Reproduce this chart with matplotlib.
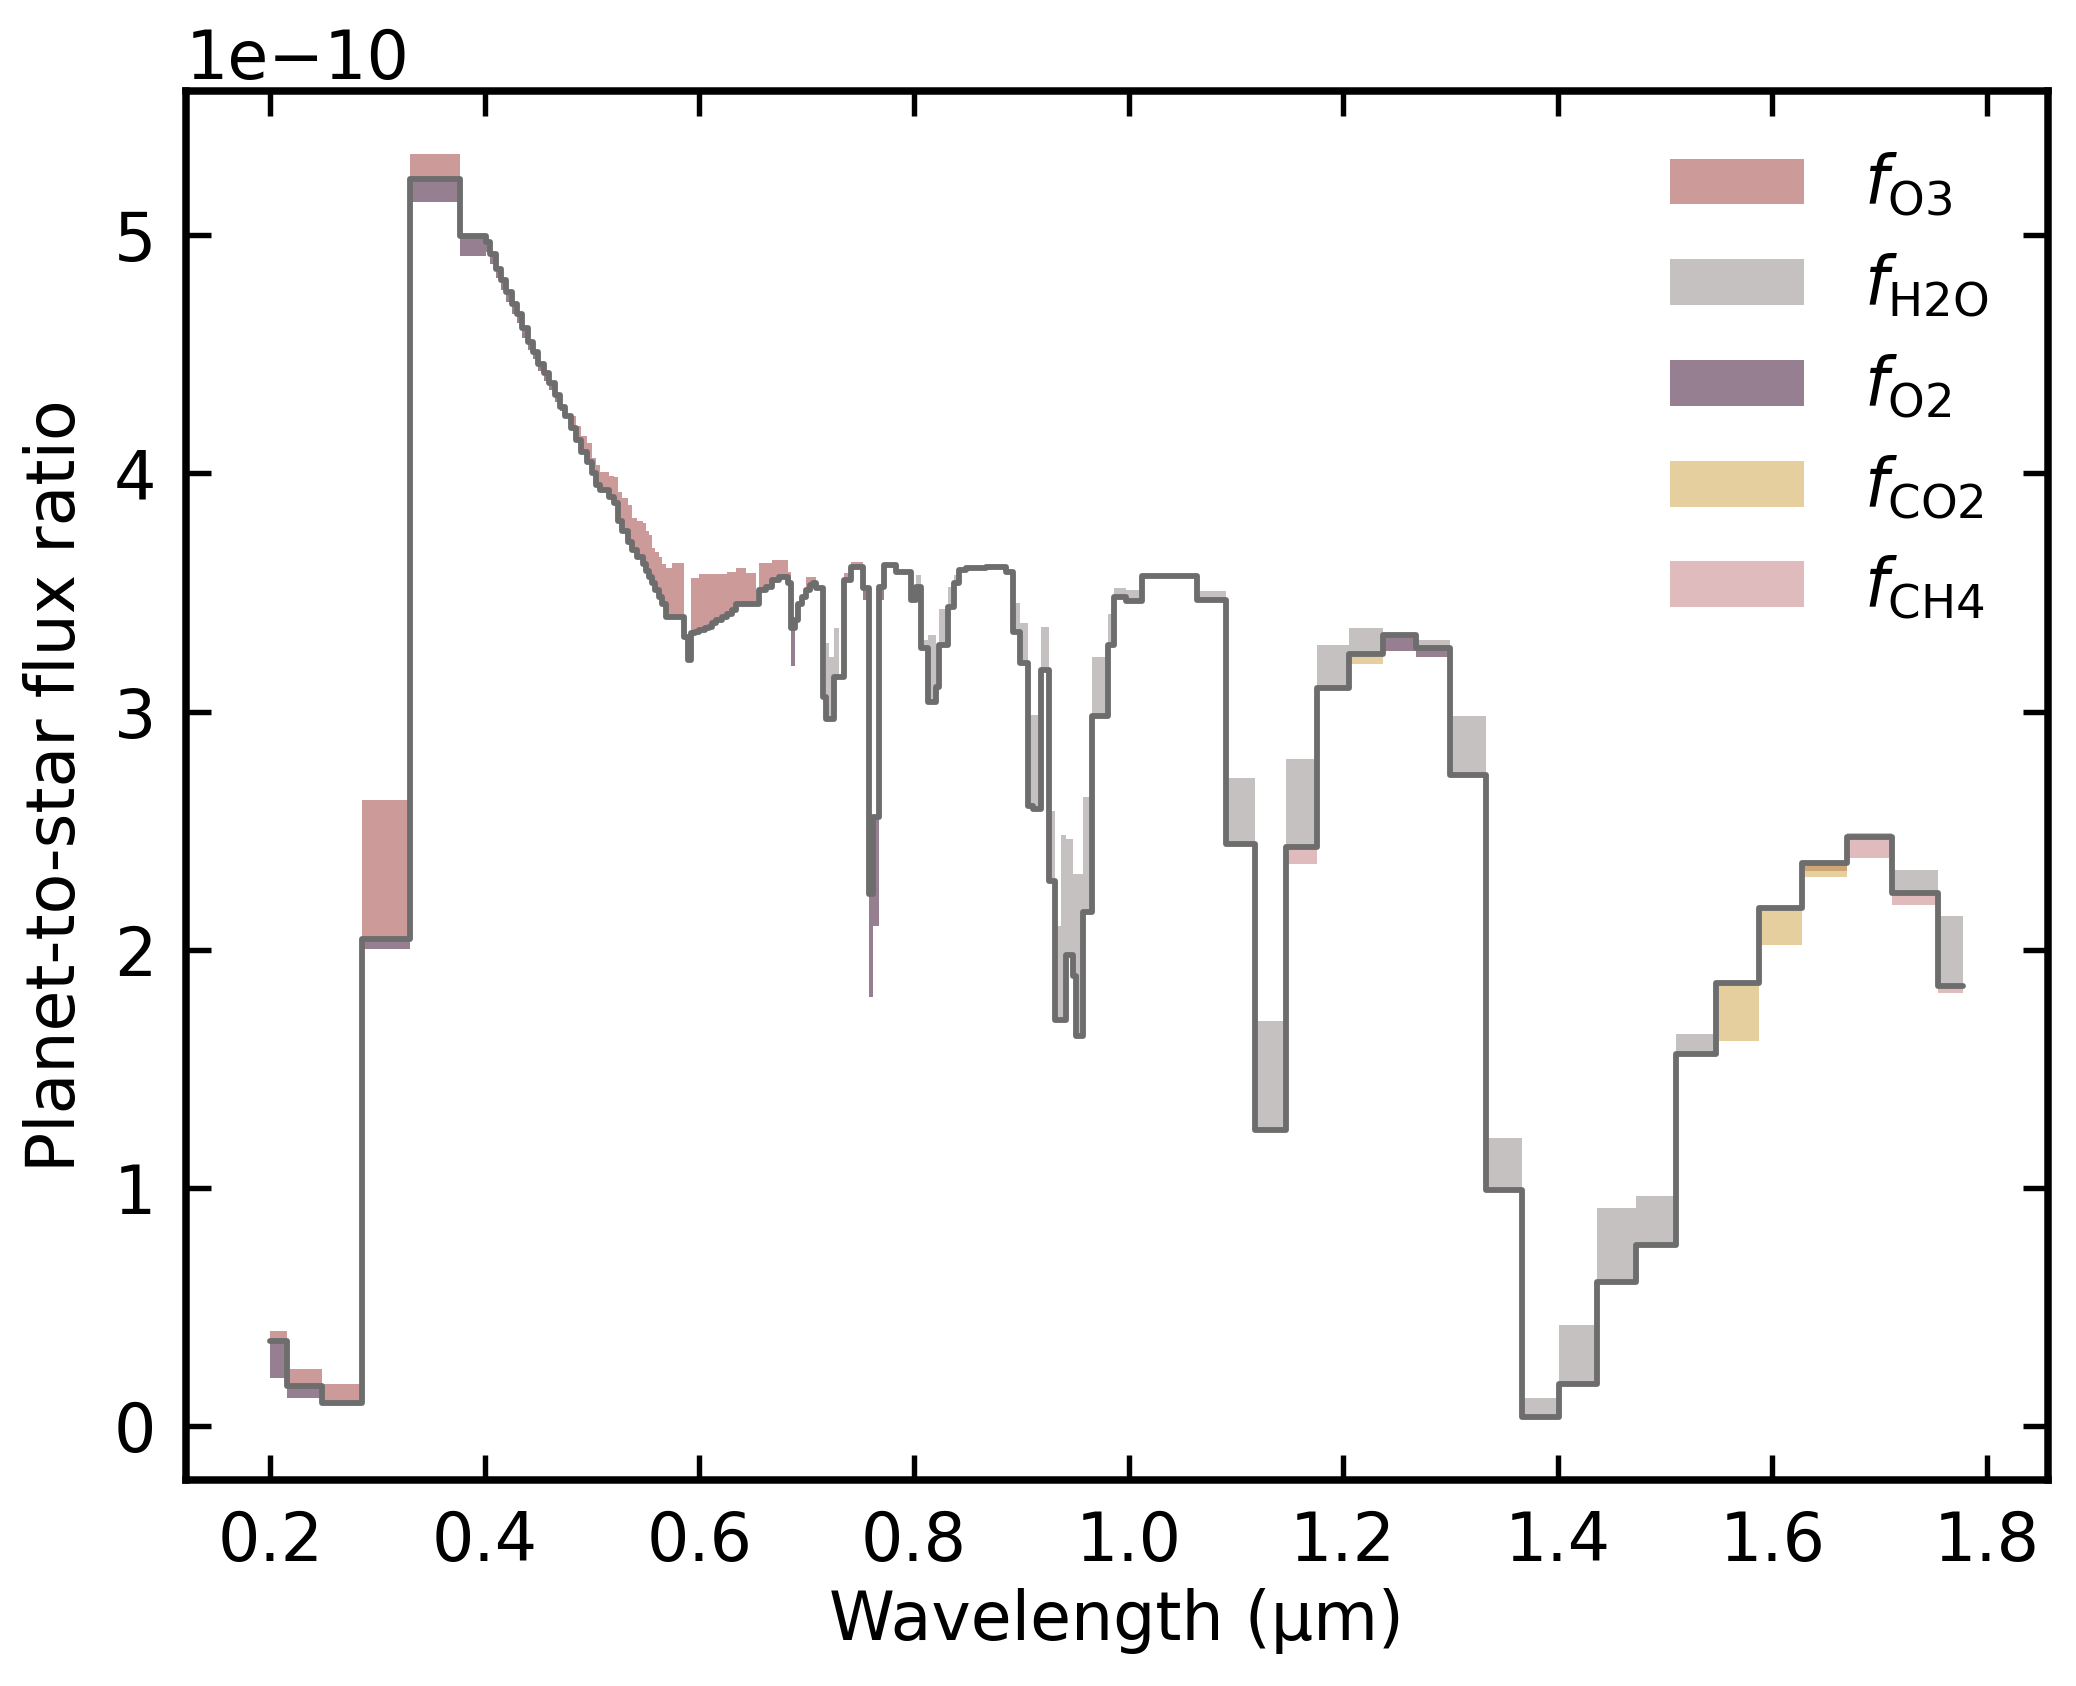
import numpy as np
import matplotlib
matplotlib.use("Agg")
import matplotlib.pyplot as plt
from matplotlib.patches import Patch

SCALE = 1e-10  # flux values below are in units of 1e-10

# bin start wavelengths (um) and planet-to-star flux ratio (x1e-10)
wl_start = [
    0.2000, 0.2158, 0.2479, 0.2857, 0.3300, 0.3766, 0.4008, 0.4050, 0.4100, 0.4150,
    0.4200, 0.4250, 0.4300, 0.4350, 0.4400, 0.4450, 0.4500, 0.4550, 0.4600, 0.4650,
    0.4700, 0.4750, 0.4800, 0.4850, 0.4900, 0.4950, 0.5000, 0.5040, 0.5070, 0.5160,
    0.5200, 0.5240, 0.5280, 0.5330, 0.5376, 0.5420, 0.5470, 0.5500, 0.5530, 0.5560,
    0.5590, 0.5625, 0.5656, 0.5690, 0.5743, 0.5860, 0.5890, 0.5925, 0.5960, 0.6000,
    0.6050, 0.6091, 0.6120, 0.6153, 0.6215, 0.6260, 0.6308, 0.6340, 0.6433, 0.6527,
    0.6557, 0.6620, 0.6680, 0.6740, 0.6830, 0.6850, 0.6890, 0.6920, 0.6960, 0.6995,
    0.7030, 0.7057, 0.7090, 0.7149, 0.7180, 0.7210, 0.7258, 0.7305, 0.7351, 0.7413,
    0.7522, 0.7584, 0.7616, 0.7678, 0.7724, 0.7833, 0.7973, 0.8020, 0.8066, 0.8129,
    0.8206, 0.8237, 0.8315, 0.8377, 0.8424, 0.8486, 0.8673, 0.8860, 0.8921, 0.8984,
    0.9061, 0.9108, 0.9186, 0.9263, 0.9310, 0.9370, 0.9418, 0.9481, 0.9512, 0.9576,
    0.9660, 0.9809, 0.9866, 0.9976, 1.0126, 1.0642, 1.0909, 1.1182, 1.1469, 1.1759,
    1.2058, 1.2375, 1.2675, 1.2998, 1.3333, 1.3667, 1.4012, 1.4365, 1.4727, 1.5100,
    1.5480, 1.5873, 1.6277, 1.6698, 1.7114, 1.7546,
]
wl_end = 1.7781

flux = [
    0.359, 0.170, 0.099, 2.047, 5.236, 4.998, 4.97, 4.92, 4.86, 4.81,
    4.76, 4.71, 4.67, 4.61, 4.55, 4.51, 4.46, 4.42, 4.38, 4.33,
    4.28, 4.24, 4.19, 4.14, 4.09, 4.05, 4.00, 3.95, 3.93, 3.90,
    3.875, 3.80, 3.76, 3.71, 3.68, 3.65, 3.62, 3.59, 3.566, 3.54,
    3.51, 3.48, 3.45, 3.397, 3.397, 3.313, 3.215, 3.33, 3.335, 3.342,
    3.35, 3.356, 3.37, 3.384, 3.397, 3.41, 3.425, 3.453, 3.453, 3.45,
    3.51, 3.524, 3.552, 3.566, 3.538, 3.349, 3.384, 3.45, 3.48, 3.51,
    3.53, 3.538, 3.52, 3.061, 2.97, 2.97, 3.145, 3.145, 3.552, 3.608,
    3.517, 2.234, 2.556, 3.524, 3.615, 3.587, 3.468, 3.524, 3.265, 3.04,
    3.103, 3.279, 3.44, 3.538, 3.594, 3.601, 3.608, 3.587, 3.335, 3.202,
    2.605, 2.591, 3.174, 2.29, 1.707, 1.707, 1.98, 1.89, 1.64, 2.16,
    2.98, 3.28, 3.483, 3.464, 3.569, 3.468, 2.443, 1.243, 2.431, 3.10,
    3.24, 3.321, 3.265, 2.735, 0.99, 0.039, 0.178, 0.607, 0.762, 1.561,
    1.86, 2.175, 2.365, 2.474, 2.24, 1.847,
]

# flux of the varied model for each gas, keyed by bin start (x1e-10)
o3_alt = {
    0.2000: 0.398, 0.2158: 0.238, 0.2479: 0.175, 0.2857: 2.629, 0.3300: 5.339,
    0.4800: 4.24, 0.4850: 4.20, 0.4900: 4.156, 0.4950: 4.127, 0.5000: 4.064,
    0.5040: 4.036, 0.5070: 4.008, 0.5160: 3.99, 0.5200: 3.987, 0.5240: 3.924,
    0.5280: 3.896, 0.5330: 3.868, 0.5376: 3.812, 0.5420: 3.80, 0.5470: 3.791,
    0.5500: 3.76, 0.5530: 3.742, 0.5560: 3.686, 0.5590: 3.67, 0.5625: 3.65,
    0.5656: 3.62, 0.5690: 3.601, 0.5743: 3.625, 0.5925: 3.559, 0.5960: 3.559,
    0.6000: 3.578, 0.6050: 3.578, 0.6091: 3.578, 0.6120: 3.578, 0.6153: 3.578,
    0.6215: 3.578, 0.6260: 3.587, 0.6308: 3.587, 0.6340: 3.601, 0.6433: 3.583,
    0.6557: 3.622, 0.6620: 3.622, 0.6680: 3.637, 0.6740: 3.637, 0.6830: 3.587,
    0.6995: 3.566, 0.7030: 3.566, 0.7057: 3.566, 0.7351: 3.58, 0.7413: 3.63,
    1.6277: 2.33,
}
h2o_alt = {
    0.6890: 3.45, 0.7180: 3.29, 0.7210: 3.23, 0.7258: 3.35, 0.8020: 3.573,
    0.8066: 3.30, 0.8129: 3.32, 0.8237: 3.43, 0.8315: 3.524, 0.8377: 3.573,
    0.8921: 3.454, 0.8984: 3.37, 0.9061: 2.984, 0.9108: 2.984, 0.9186: 3.356,
    0.9263: 2.584, 0.9310: 2.10, 0.9370: 2.48, 0.9418: 2.465, 0.9481: 2.32,
    0.9512: 2.32, 0.9576: 2.64, 0.9660: 3.23, 0.9809: 3.41, 0.9866: 3.52,
    0.9976: 3.51, 1.0642: 3.506, 1.0909: 2.72, 1.1182: 1.70, 1.1469: 2.80,
    1.1759: 3.28, 1.2058: 3.35, 1.2675: 3.30, 1.2998: 2.98, 1.3333: 1.21,
    1.3667: 0.12, 1.4012: 0.425, 1.4365: 0.915, 1.4727: 0.965, 1.5100: 1.645,
    1.6698: 2.49, 1.7114: 2.335, 1.7546: 2.14,
}
o2_alt = {
    0.2000: 0.2016, 0.2158: 0.12, 0.2857: 2.003, 0.3300: 5.14, 0.3766: 4.911,
    0.4008: 4.93, 0.4050: 4.88, 0.4100: 4.82, 0.4150: 4.77, 0.4200: 4.72,
    0.4250: 4.67, 0.4300: 4.63, 0.4350: 4.57, 0.4400: 4.52, 0.4450: 4.48,
    0.4500: 4.43, 0.4550: 4.39, 0.4600: 4.35, 0.4650: 4.30, 0.4700: 4.26,
    0.6850: 3.19, 0.7522: 3.47, 0.7584: 1.80, 0.7616: 2.10, 0.7678: 3.47,
    1.2375: 3.255, 1.2675: 3.228,
}
co2_alt = {1.2058: 3.20, 1.5480: 1.617, 1.5873: 2.02, 1.6277: 2.306}
ch4_alt = {1.1469: 2.36, 1.6698: 2.385, 1.7114: 2.19, 1.7546: 1.82}

gas_labels = [r"$f_{\rm O3}$", r"$f_{\rm H2O}$", r"$f_{\rm O2}$", r"$f_{\rm CO2}$", r"$f_{\rm CH4}$"]
gas_alts = [o3_alt, h2o_alt, o2_alt, co2_alt, ch4_alt]
gas_colors = ["#aa5753", "#a09999", "#502a48", "#d4af5f", "#ca8e91"]
fill_alpha = 0.6
line_color = "#6d6d6d"

edges = np.array(wl_start + [wl_end])
fl = np.array(flux)
fl_ext = np.append(fl, fl[-1]) * SCALE

fig = plt.figure(figsize=(6.92, 5.62), dpi=300)
ax = fig.add_axes([0.0894, 0.1222, 0.8971, 0.8236])

starts = np.array(wl_start)
for alt_map, col in zip(gas_alts, gas_colors):
    alt = fl.copy()
    for w0, val in alt_map.items():
        idx = int(np.argmin(np.abs(starts - w0)))
        alt[idx] = val
    alt_ext = np.append(alt, alt[-1]) * SCALE
    ax.fill_between(edges, fl_ext, alt_ext, step="post", color=col,
                    alpha=fill_alpha, lw=0)

ax.plot(edges, fl_ext, drawstyle="steps-post", color=line_color, lw=1.4,
        solid_joinstyle="round", solid_capstyle="round", zorder=5)

ax.set_xlabel("Wavelength (μm)", fontsize=16, labelpad=3)
ax.set_ylabel("Planet-to-star flux ratio", fontsize=16, labelpad=6)
ax.tick_params(direction="in", which="both", top=True, right=True,
               length=6, width=1.3, labelsize=16, pad=7)
ax.yaxis.get_offset_text().set_fontsize(16)
for sp in ax.spines.values():
    sp.set_linewidth(1.8)
ax.set_xticks([0.2, 0.4, 0.6, 0.8, 1.0, 1.2, 1.4, 1.6, 1.8])
ax.set_yticks(np.array([0, 1, 2, 3, 4, 5]) * SCALE)

handles = [Patch(facecolor=c, alpha=fill_alpha, lw=0) for c in gas_colors]
ax.legend(handles, gas_labels, loc="upper right", frameon=False, fontsize=16,
          handlelength=2.0, handleheight=0.68, labelspacing=0.5,
          handletextpad=0.9)

fig.savefig("out.png", dpi=300)
